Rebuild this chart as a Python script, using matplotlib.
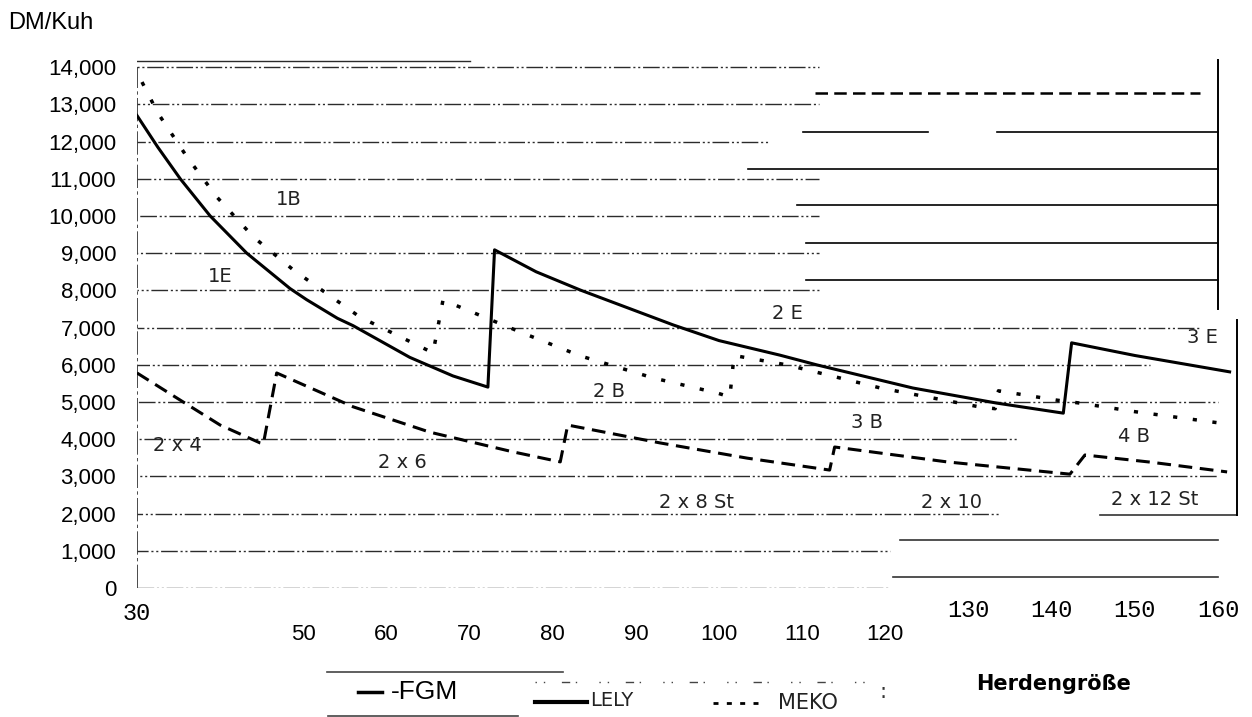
import matplotlib.pyplot as plt
from matplotlib.lines import Line2D

# DM/Kuh over Herdengroesse (jumps = next robot / parlour size)
lely_x = [30, 32.5, 35.2, 38.8, 43.2, 48.4, 50.4, 54.1, 56, 62.8, 68, 72.2,
          73.0, 78, 83.3, 94.5, 100, 107.3, 111.8, 123.3, 133.4, 141.4,
          142.4, 150, 161.4]
lely_y = [12700, 11850, 11000, 10000, 9000, 8050, 7750, 7250, 7050, 6200, 5700, 5400,
          9090, 8500, 8010, 7070, 6650, 6260, 5995, 5376, 4970, 4700,
          6590, 6250, 5810]

meko_x = [30.6, 32.5, 36, 39.6, 44, 48.8, 56.8, 65.6,
          66.8, 76.1, 83.3, 92.1, 99.8, 101.3,
          101.8, 108.2, 119.4, 131.4, 133.2,
          133.6, 140.6, 143.4, 150, 160.2]
meko_y = [13600, 12770, 11590, 10510, 9435, 8550, 7285, 6320,
          7740, 6880, 6240, 5645, 5240, 5135,
          6250, 5995, 5376, 4865, 4820,
          5300, 5050, 4970, 4740, 4435]

fgm_x = [30, 35.2, 40, 44.8, 45.2,
         46.8, 56, 65.2, 75.2, 80.9,
         81.8, 92.9, 103.4, 113.3,
         113.9, 127.4, 142.2,
         144, 152, 161.1]
fgm_y = [5780, 5050, 4380, 3900, 3880,
         5780, 4870, 4190, 3660, 3390,
         4380, 3900, 3490, 3170,
         3790, 3390, 3060,
         3575, 3380, 3120]

curve_labels = ['1B', '1E', '2 E', '2 B', '2 x 4', '2 x 6', '2 x 8 St',
                '3 B', '4 B', '3 E', '2 x 10', '2 x 12 St']
label_x = [48.3, 40.0, 108.2, 86.8, 34.8, 61.9, 97.3, 117.8, 149.9, 158.1, 127.9, 152.4]
label_y = [10430, 8360, 7370, 5270, 3820, 3360, 2310, 4460, 4060, 6720, 2310, 2390]

y_ticks = list(range(0, 15000, 1000))
x_ticks = [30, 50, 60, 70, 80, 90, 100, 110, 120, 130, 140, 150, 160]

# how far each gridline of the scan reaches to the right
grid_end = [120.6, 120.6, 133.8, 160, 136, 160, 151.8, 157.8,
            112, 112, 112, 112, 106, 112, 112]

W, H = 1252, 717
fig = plt.figure(figsize=(W / 100, H / 100), dpi=100)
ax = fig.add_axes([137 / W, (H - 588) / H, (1240 - 137) / W, (588 - 56) / H])
ax.set_xlim(30, 162.65)
ax.set_ylim(0, 14300)
for s in ax.spines.values():
    s.set_visible(False)

ink = '#2b2b2b'
# broken scan gridlines
for i, (lev, end) in enumerate(zip(y_ticks, grid_end)):
    ax.plot([30, end], [lev, lev], color=ink, lw=1.0,
            linestyle=(i * 4, (12, 2, 1.5, 2, 1.5, 2)))
ax.plot([28.6, 70], [14170, 14170], color=ink, lw=1.0)
ax.plot([30, 30], [0, 14000], color=ink, lw=1.2, linestyle=(0, (14, 2, 2, 2)))

# the pasted-in block on the right
for lev, x0 in zip([11270, 10300, 9270, 8280], [103.5, 109.4, 110.5, 110.5]):
    ax.plot([x0, 160], [lev, lev], color='black', lw=1.2)
ax.plot([110.1, 125.1], [12260, 12260], color='black', lw=1.2)
ax.plot([133.4, 160], [12260, 12260], color='black', lw=1.2)
ax.plot([111.5, 157.8], [13300, 13300], color='black', lw=1.8, linestyle=(0, (5, 2.5)))
ax.plot([121.8, 160], [1290, 1290], color='#333', lw=1.2)
ax.plot([120.9, 160], [296, 296], color='#333', lw=1.2)
ax.plot([145.8, 162.3], [1960, 1960], color='#333', lw=1.2)
ax.plot([160, 160], [7500, 14200], color='black', lw=1.4)
ax.plot([162.3, 162.3], [1960, 7200], color='black', lw=1.4)

# the three series
ax.plot(lely_x, lely_y, color='black', lw=2.2, solid_joinstyle='round')
ax.plot(meko_x, meko_y, color='black', lw=2.5, linestyle=(0, (1.2, 4.5)))
ax.plot(fgm_x, fgm_y, color='black', lw=2.2, linestyle=(0, (4.5, 2.5)))

for txt, x, y in zip(curve_labels, label_x, label_y):
    ax.text(x, y, txt, ha='center', va='center', fontsize=14,
            family='DejaVu Sans', color='#222')

# axes ticks
ax.set_yticks(y_ticks)
ax.set_yticklabels([f'{v:,}' for v in y_ticks], fontsize=16, family='Liberation Sans')
ax.tick_params(axis='y', length=0, pad=15)
ax.set_xticks(x_ticks)
ax.set_xticklabels([str(v) for v in x_ticks])
ax.tick_params(axis='x', length=0)
for t, v in zip(ax.xaxis.get_major_ticks(), x_ticks):
    if v == 30 or v >= 130:
        t.label1.set_fontfamily('Liberation Mono')
        t.label1.set_fontsize(17)
        t.set_pad(10 if v == 30 else 8)
    else:
        t.label1.set_fontfamily('Liberation Sans')
        t.label1.set_fontsize(16)
        t.set_pad(26)

fx = lambda px: px / W
fy = lambda py: 1 - py / H

fig.text(fx(8), fy(23), 'DM/Kuh', fontsize=17, family='Liberation Sans', va='center')

# legend, rebuilt the way the scan shows it
fig.add_artist(Line2D([fx(327), fx(563)], [fy(672)] * 2, color='#444', lw=1.2))
fig.add_artist(Line2D([fx(328), fx(518)], [fy(716)] * 2, color='#444', lw=1.2))
fig.add_artist(Line2D([fx(358), fx(382)], [fy(692)] * 2, color='black', lw=2.5))
fig.text(fx(391), fy(692), '-FGM', fontsize=19, family='Liberation Sans', va='center')
fig.add_artist(Line2D([fx(535), fx(870)], [fy(682)] * 2, color='#444', lw=1.0,
                      linestyle=(0, (1, 5, 1, 12, 6, 4, 1, 16))))
fig.add_artist(Line2D([fx(535), fx(587)], [fy(702)] * 2, color='black', lw=3))
fig.text(fx(590), fy(700), 'LELY', fontsize=14, family='DejaVu Sans', va='center', color='#222')
fig.add_artist(Line2D([fx(713), fx(762)], [fy(703)] * 2, color='black', lw=2,
                      linestyle=(0, (1.8, 3))))
fig.text(fx(778), fy(703), 'MEKO', fontsize=15, family='DejaVu Sans', va='center', color='#222')
fig.text(fx(880), fy(692), ':', fontsize=15, va='center', color='#333')
fig.text(fx(1054), fy(684), 'Herdengröße', fontsize=15, weight='bold',
         family='DejaVu Sans', ha='center', va='center')

fig.savefig('out.png', dpi=100)
